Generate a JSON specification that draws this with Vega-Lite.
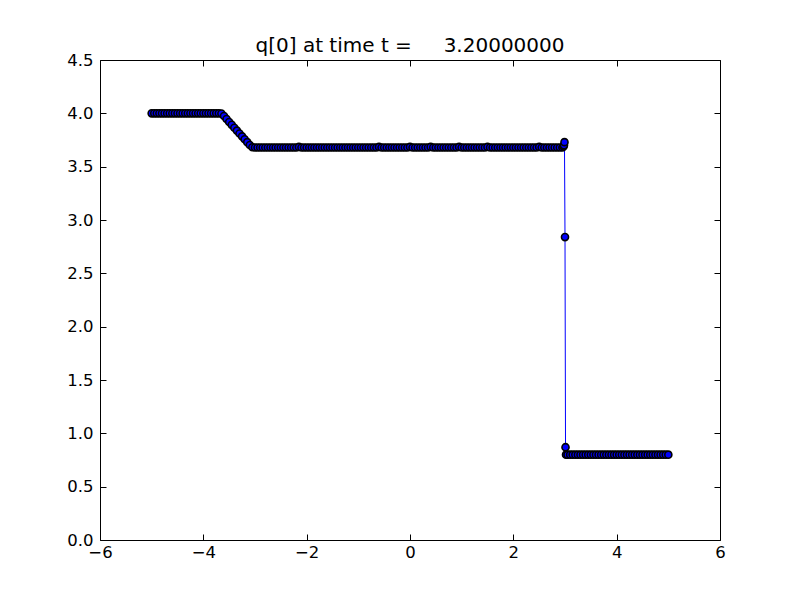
{
  "$schema": "https://vega.github.io/schema/vega-lite/v6.json",
  "width": 620,
  "height": 480,
  "autosize": {"type": "none"},
  "padding": {"left": 100, "top": 60, "right": 80, "bottom": 60},
  "background": "white",
  "title": {
    "text": "q[0] at time t =\u00a0\u00a0\u00a0\u00a0\u00a03.20000000",
    "font": "DejaVu Sans",
    "fontSize": 20,
    "fontWeight": "normal",
    "color": "black",
    "offset": -4
  },
  "config": {
    "view": {"stroke": null},
    "axis": {
      "labelFont": "DejaVu Sans",
      "labelFontSize": 16.5,
      "labelColor": "black",
      "domainColor": "black",
      "domainWidth": 1,
      "tickColor": "black",
      "tickWidth": 1,
      "tickSize": -6,
      "grid": false,
      "title": null
    }
  },
  "data": {
    "values": [
      {"x": -5.0, "q": 4.0}, {"x": -4.95, "q": 4.0}, {"x": -4.9, "q": 4.0}, {"x": -4.85, "q": 4.0},
      {"x": -4.8, "q": 4.0}, {"x": -4.75, "q": 4.0}, {"x": -4.7, "q": 4.0}, {"x": -4.65, "q": 4.0},
      {"x": -4.6, "q": 4.0}, {"x": -4.55, "q": 4.0}, {"x": -4.5, "q": 4.0}, {"x": -4.45, "q": 4.0},
      {"x": -4.4, "q": 4.0}, {"x": -4.35, "q": 4.0}, {"x": -4.3, "q": 4.0}, {"x": -4.25, "q": 4.0},
      {"x": -4.2, "q": 4.0}, {"x": -4.15, "q": 4.0}, {"x": -4.1, "q": 4.0}, {"x": -4.05, "q": 4.0},
      {"x": -4.0, "q": 4.0}, {"x": -3.95, "q": 4.0}, {"x": -3.9, "q": 4.0}, {"x": -3.85, "q": 4.0},
      {"x": -3.8, "q": 4.0}, {"x": -3.75, "q": 4.0}, {"x": -3.7, "q": 4.0}, {"x": -3.65, "q": 3.998},
      {"x": -3.6, "q": 3.975}, {"x": -3.55, "q": 3.947}, {"x": -3.5, "q": 3.919}, {"x": -3.45, "q": 3.892},
      {"x": -3.4, "q": 3.865}, {"x": -3.35, "q": 3.838}, {"x": -3.3, "q": 3.811}, {"x": -3.25, "q": 3.784},
      {"x": -3.2, "q": 3.757}, {"x": -3.15, "q": 3.73}, {"x": -3.1, "q": 3.703}, {"x": -3.05, "q": 3.682},
      {"x": -3.0, "q": 3.68}, {"x": -2.95, "q": 3.68}, {"x": -2.9, "q": 3.68}, {"x": -2.85, "q": 3.68},
      {"x": -2.8, "q": 3.68}, {"x": -2.75, "q": 3.68}, {"x": -2.7, "q": 3.68}, {"x": -2.65, "q": 3.68},
      {"x": -2.6, "q": 3.68}, {"x": -2.55, "q": 3.68}, {"x": -2.5, "q": 3.68}, {"x": -2.45, "q": 3.68},
      {"x": -2.4, "q": 3.68}, {"x": -2.35, "q": 3.68}, {"x": -2.3, "q": 3.68}, {"x": -2.25, "q": 3.68},
      {"x": -2.2, "q": 3.68}, {"x": -2.15, "q": 3.685}, {"x": -2.1, "q": 3.68}, {"x": -2.05, "q": 3.68},
      {"x": -2.0, "q": 3.68}, {"x": -1.95, "q": 3.68}, {"x": -1.9, "q": 3.68}, {"x": -1.85, "q": 3.68},
      {"x": -1.8, "q": 3.68}, {"x": -1.75, "q": 3.68}, {"x": -1.7, "q": 3.68}, {"x": -1.65, "q": 3.68},
      {"x": -1.6, "q": 3.68}, {"x": -1.55, "q": 3.68}, {"x": -1.5, "q": 3.68}, {"x": -1.45, "q": 3.68},
      {"x": -1.4, "q": 3.68}, {"x": -1.35, "q": 3.68}, {"x": -1.3, "q": 3.68}, {"x": -1.25, "q": 3.68},
      {"x": -1.2, "q": 3.68}, {"x": -1.15, "q": 3.68}, {"x": -1.1, "q": 3.68}, {"x": -1.05, "q": 3.68},
      {"x": -1.0, "q": 3.68}, {"x": -0.95, "q": 3.68}, {"x": -0.9, "q": 3.68}, {"x": -0.85, "q": 3.68},
      {"x": -0.8, "q": 3.68}, {"x": -0.75, "q": 3.68}, {"x": -0.7, "q": 3.68}, {"x": -0.65, "q": 3.68},
      {"x": -0.6, "q": 3.685}, {"x": -0.55, "q": 3.68}, {"x": -0.5, "q": 3.68}, {"x": -0.45, "q": 3.68},
      {"x": -0.4, "q": 3.68}, {"x": -0.35, "q": 3.68}, {"x": -0.3, "q": 3.68}, {"x": -0.25, "q": 3.68},
      {"x": -0.2, "q": 3.68}, {"x": -0.15, "q": 3.68}, {"x": -0.1, "q": 3.68}, {"x": -0.05, "q": 3.68},
      {"x": 0.0, "q": 3.685}, {"x": 0.05, "q": 3.68}, {"x": 0.1, "q": 3.68}, {"x": 0.15, "q": 3.68},
      {"x": 0.2, "q": 3.68}, {"x": 0.25, "q": 3.68}, {"x": 0.3, "q": 3.68}, {"x": 0.35, "q": 3.68},
      {"x": 0.4, "q": 3.685}, {"x": 0.45, "q": 3.68}, {"x": 0.5, "q": 3.68}, {"x": 0.55, "q": 3.68},
      {"x": 0.6, "q": 3.68}, {"x": 0.65, "q": 3.68}, {"x": 0.7, "q": 3.68}, {"x": 0.75, "q": 3.68},
      {"x": 0.8, "q": 3.68}, {"x": 0.85, "q": 3.68}, {"x": 0.9, "q": 3.68}, {"x": 0.95, "q": 3.685},
      {"x": 1.0, "q": 3.68}, {"x": 1.05, "q": 3.68}, {"x": 1.1, "q": 3.68}, {"x": 1.15, "q": 3.68},
      {"x": 1.2, "q": 3.68}, {"x": 1.25, "q": 3.68}, {"x": 1.3, "q": 3.68}, {"x": 1.35, "q": 3.68},
      {"x": 1.4, "q": 3.68}, {"x": 1.45, "q": 3.68}, {"x": 1.5, "q": 3.685}, {"x": 1.55, "q": 3.68},
      {"x": 1.6, "q": 3.68}, {"x": 1.65, "q": 3.68}, {"x": 1.7, "q": 3.68}, {"x": 1.75, "q": 3.68},
      {"x": 1.8, "q": 3.68}, {"x": 1.85, "q": 3.68}, {"x": 1.9, "q": 3.68}, {"x": 1.95, "q": 3.68},
      {"x": 2.0, "q": 3.68}, {"x": 2.05, "q": 3.68}, {"x": 2.1, "q": 3.68}, {"x": 2.15, "q": 3.68},
      {"x": 2.2, "q": 3.68}, {"x": 2.25, "q": 3.68}, {"x": 2.3, "q": 3.68}, {"x": 2.35, "q": 3.68},
      {"x": 2.4, "q": 3.68}, {"x": 2.45, "q": 3.68}, {"x": 2.5, "q": 3.685}, {"x": 2.55, "q": 3.68},
      {"x": 2.6, "q": 3.68}, {"x": 2.65, "q": 3.68}, {"x": 2.7, "q": 3.68}, {"x": 2.75, "q": 3.68},
      {"x": 2.8, "q": 3.68}, {"x": 2.85, "q": 3.68}, {"x": 2.9, "q": 3.68}, {"x": 2.95, "q": 3.68},
      {"x": 2.97, "q": 3.69}, {"x": 2.98, "q": 3.7}, {"x": 2.99, "q": 3.73}, {"x": 3.0, "q": 2.84},
      {"x": 3.01, "q": 0.87}, {"x": 3.02, "q": 0.8},
      {"x": 3.05, "q": 0.8}, {"x": 3.1, "q": 0.8}, {"x": 3.15, "q": 0.8}, {"x": 3.2, "q": 0.8},
      {"x": 3.25, "q": 0.8}, {"x": 3.3, "q": 0.8}, {"x": 3.35, "q": 0.8}, {"x": 3.4, "q": 0.8},
      {"x": 3.45, "q": 0.8}, {"x": 3.5, "q": 0.8}, {"x": 3.55, "q": 0.8}, {"x": 3.6, "q": 0.8},
      {"x": 3.65, "q": 0.8}, {"x": 3.7, "q": 0.8}, {"x": 3.75, "q": 0.8}, {"x": 3.8, "q": 0.8},
      {"x": 3.85, "q": 0.8}, {"x": 3.9, "q": 0.8}, {"x": 3.95, "q": 0.8}, {"x": 4.0, "q": 0.8},
      {"x": 4.05, "q": 0.8}, {"x": 4.1, "q": 0.8}, {"x": 4.15, "q": 0.8}, {"x": 4.2, "q": 0.8},
      {"x": 4.25, "q": 0.8}, {"x": 4.3, "q": 0.8}, {"x": 4.35, "q": 0.8}, {"x": 4.4, "q": 0.8},
      {"x": 4.45, "q": 0.8}, {"x": 4.5, "q": 0.8}, {"x": 4.55, "q": 0.8}, {"x": 4.6, "q": 0.8},
      {"x": 4.65, "q": 0.8}, {"x": 4.7, "q": 0.8}, {"x": 4.75, "q": 0.8}, {"x": 4.8, "q": 0.8},
      {"x": 4.85, "q": 0.8}, {"x": 4.9, "q": 0.8}, {"x": 4.95, "q": 0.8}, {"x": 5.0, "q": 0.8}
    ]
  },
  "resolve": {"axis": {"x": "independent", "y": "independent"}},
  "layer": [
    {
      "mark": {"type": "line", "color": "#0000ff", "strokeWidth": 1, "clip": true},
      "encoding": {
        "x": {"field": "x", "type": "quantitative",
              "scale": {"domain": [-6, 6], "nice": false, "zero": false},
              "axis": {"orient": "bottom", "values": [-6, -4, -2, 0, 2, 4, 6], "format": "d", "labelPadding": 10, "labelFlush": false}},
        "y": {"field": "q", "type": "quantitative",
              "scale": {"domain": [0, 4.5], "nice": false, "zero": false},
              "axis": {"orient": "left", "values": [0, 0.5, 1, 1.5, 2, 2.5, 3, 3.5, 4, 4.5], "format": ".1f", "labelPadding": 13, "labelFlush": false}},
        "order": {"field": "x", "type": "quantitative"}
      }
    },
    {
      "mark": {"type": "point", "filled": true, "fill": "#0000ff", "stroke": "black", "strokeWidth": 1.6, "size": 50, "opacity": 1, "shape": "circle"},
      "encoding": {
        "x": {"field": "x", "type": "quantitative",
              "scale": {"domain": [-6, 6], "nice": false, "zero": false},
              "axis": {"orient": "top", "values": [-6, -4, -2, 0, 2, 4, 6], "labels": false}},
        "y": {"field": "q", "type": "quantitative",
              "scale": {"domain": [0, 4.5], "nice": false, "zero": false},
              "axis": {"orient": "right", "values": [0, 0.5, 1, 1.5, 2, 2.5, 3, 3.5, 4, 4.5], "labels": false}}
      }
    }
  ]
}
